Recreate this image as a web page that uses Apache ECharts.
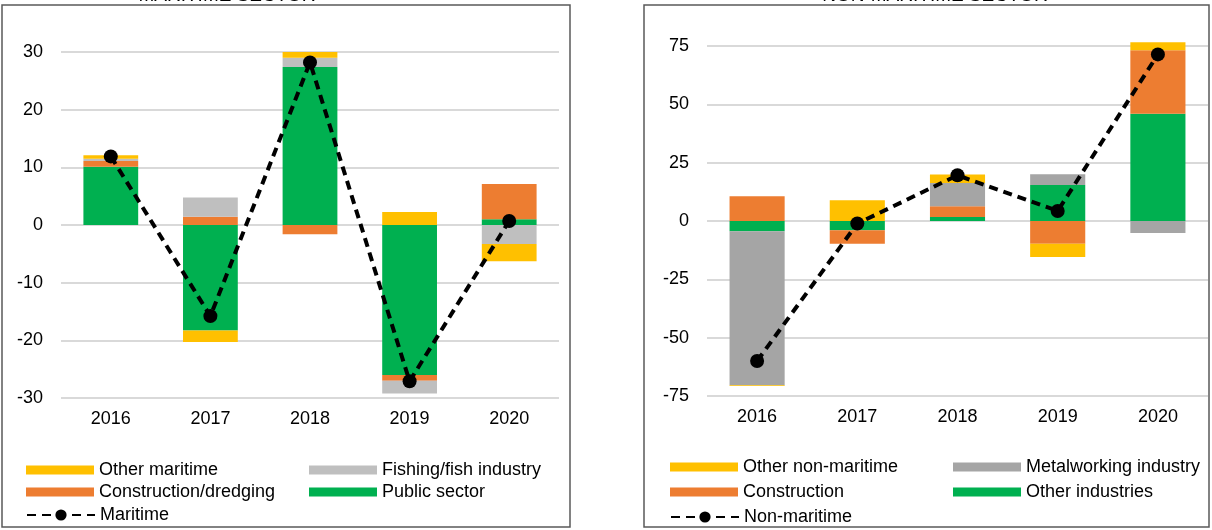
<!DOCTYPE html>
<html>
<head>
<meta charset="utf-8">
<script src="https://cdn.jsdelivr.net/npm/echarts@6/dist/echarts.min.js"></script>
<style>
  html, body { margin: 0; padding: 0; background: #fff; }
  #chart { width: 1212px; height: 530px; }
</style>
</head>
<body>
<div id="chart"></div>
<script>
// years on the x axis
const years = ['2016', '2017', '2018', '2019', '2020'];

// maritime sector
const publicSector = [10.1, -18.3, 27.4, -26.0, 1.0];
const constructionDredging = [1.0, 1.45, -1.6, -1.0, 6.1];
const fishingIndustry = [0.4, 3.3, 1.6, -2.2, -3.3];
const otherMaritime = [0.6, -2.0, 1.0, 2.25, -3.0];
const maritimeTotal = [11.9, -15.8, 28.2, -27.1, 0.7];

// non-maritime sector
const otherIndustries = [-4.4, -4.0, 1.7, 15.4, 46.0];
const construction = [10.6, -5.7, 4.6, -9.7, 27.2];
const metalworking = [-66.0, 0, 10.0, 4.6, -5.1];
const otherNonMaritime = [-0.3, 8.9, 3.6, -5.7, 3.4];
const nonMaritimeTotal = [-60.0, -1.1, 19.6, 4.3, 71.4];

const font = 'Liberation Sans, Arial, sans-serif';
const YELLOW = '#FFC000', ORANGE = '#ED7D31', GREEN = '#00B050';

const chart = echarts.init(document.getElementById('chart'));

function legendItem(name, left, centerY, isLine) {
    return {
        data: [name],
        left: left,
        top: centerY - 10,
        itemWidth: 68,
        itemHeight: isLine ? 14 : 9,
        itemGap: 0,
        icon: isLine ? undefined : 'rect',
        selectedMode: false,
        textStyle: { fontFamily: font, fontSize: 18, color: '#000' }
    };
}

function barSeries(name, data, color, axis, stack) {
    return {
        name: name,
        type: 'bar',
        stack: stack,
        data: data,
        xAxisIndex: axis,
        yAxisIndex: axis,
        barWidth: '55%',
        clip: false,
        itemStyle: { color: color },
        emphasis: { disabled: true }
    };
}

function lineSeries(name, data, axis) {
    return {
        name: name,
        type: 'line',
        data: data,
        xAxisIndex: axis,
        yAxisIndex: axis,
        z: 5,
        symbol: 'circle',
        symbolSize: 14,
        itemStyle: { color: '#000' },
        lineStyle: { color: '#000', width: 4, type: [9, 6] },
        emphasis: { disabled: true }
    };
}

const xAxisBase = {
    type: 'category',
    data: years,
    axisLine: { show: false, onZero: false },
    axisTick: { show: false },
    axisLabel: { fontFamily: font, fontSize: 18, color: '#000', margin: 12 }
};

const yAxisBase = {
    type: 'value',
    axisLine: { show: false },
    axisTick: { show: false },
    splitLine: { lineStyle: { color: '#D9D9D9', width: 2 } },
    axisLabel: { fontFamily: font, fontSize: 18, color: '#000', margin: 18 }
};

chart.setOption({
    animation: false,
    graphic: [
        { type: 'rect', shape: { x: 2, y: 5, width: 568, height: 522 },
          style: { fill: 'none', stroke: '#595959', lineWidth: 1.5 } },
        { type: 'rect', shape: { x: 644, y: 5, width: 565, height: 522 },
          style: { fill: 'none', stroke: '#595959', lineWidth: 1.5 } },
        { type: 'text', x: 227, y: -14,
          style: { text: 'MARITIME SECTOR', font: '19px ' + font, fill: '#000',
                   align: 'center', verticalAlign: 'top' } },
        { type: 'text', x: 935, y: -14,
          style: { text: 'NON-MARITIME SECTOR', font: '19px ' + font, fill: '#000',
                   align: 'center', verticalAlign: 'top' } }
    ],
    grid: [
        { left: 61, width: 498, top: 52, height: 346 },
        { left: 707, width: 501, top: 46, height: 350 }
    ],
    xAxis: [
        Object.assign({ gridIndex: 0 }, xAxisBase),
        Object.assign({ gridIndex: 1 }, xAxisBase)
    ],
    yAxis: [
        Object.assign({ gridIndex: 0, min: -30, max: 30, interval: 10 }, yAxisBase),
        Object.assign({ gridIndex: 1, min: -75, max: 75, interval: 25 }, yAxisBase)
    ],
    legend: [
        legendItem('Other maritime', 21, 466),
        legendItem('Construction/dredging', 21, 488),
        legendItem('Maritime', 21, 511, true),
        legendItem('Fishing/fish industry', 304, 466),
        legendItem('Public sector', 304, 488),
        legendItem('Other non-maritime', 665, 463),
        legendItem('Construction', 665, 488),
        legendItem('Non-maritime', 665, 513, true),
        legendItem('Metalworking industry', 948, 463),
        legendItem('Other industries', 948, 488)
    ],
    series: [
        barSeries('Public sector', publicSector, GREEN, 0, 'm'),
        barSeries('Construction/dredging', constructionDredging, ORANGE, 0, 'm'),
        barSeries('Fishing/fish industry', fishingIndustry, '#BFBFBF', 0, 'm'),
        barSeries('Other maritime', otherMaritime, YELLOW, 0, 'm'),
        lineSeries('Maritime', maritimeTotal, 0),
        barSeries('Other industries', otherIndustries, GREEN, 1, 'n'),
        barSeries('Construction', construction, ORANGE, 1, 'n'),
        barSeries('Metalworking industry', metalworking, '#A5A5A5', 1, 'n'),
        barSeries('Other non-maritime', otherNonMaritime, YELLOW, 1, 'n'),
        lineSeries('Non-maritime', nonMaritimeTotal, 1)
    ]
});
</script>
</body>
</html>
